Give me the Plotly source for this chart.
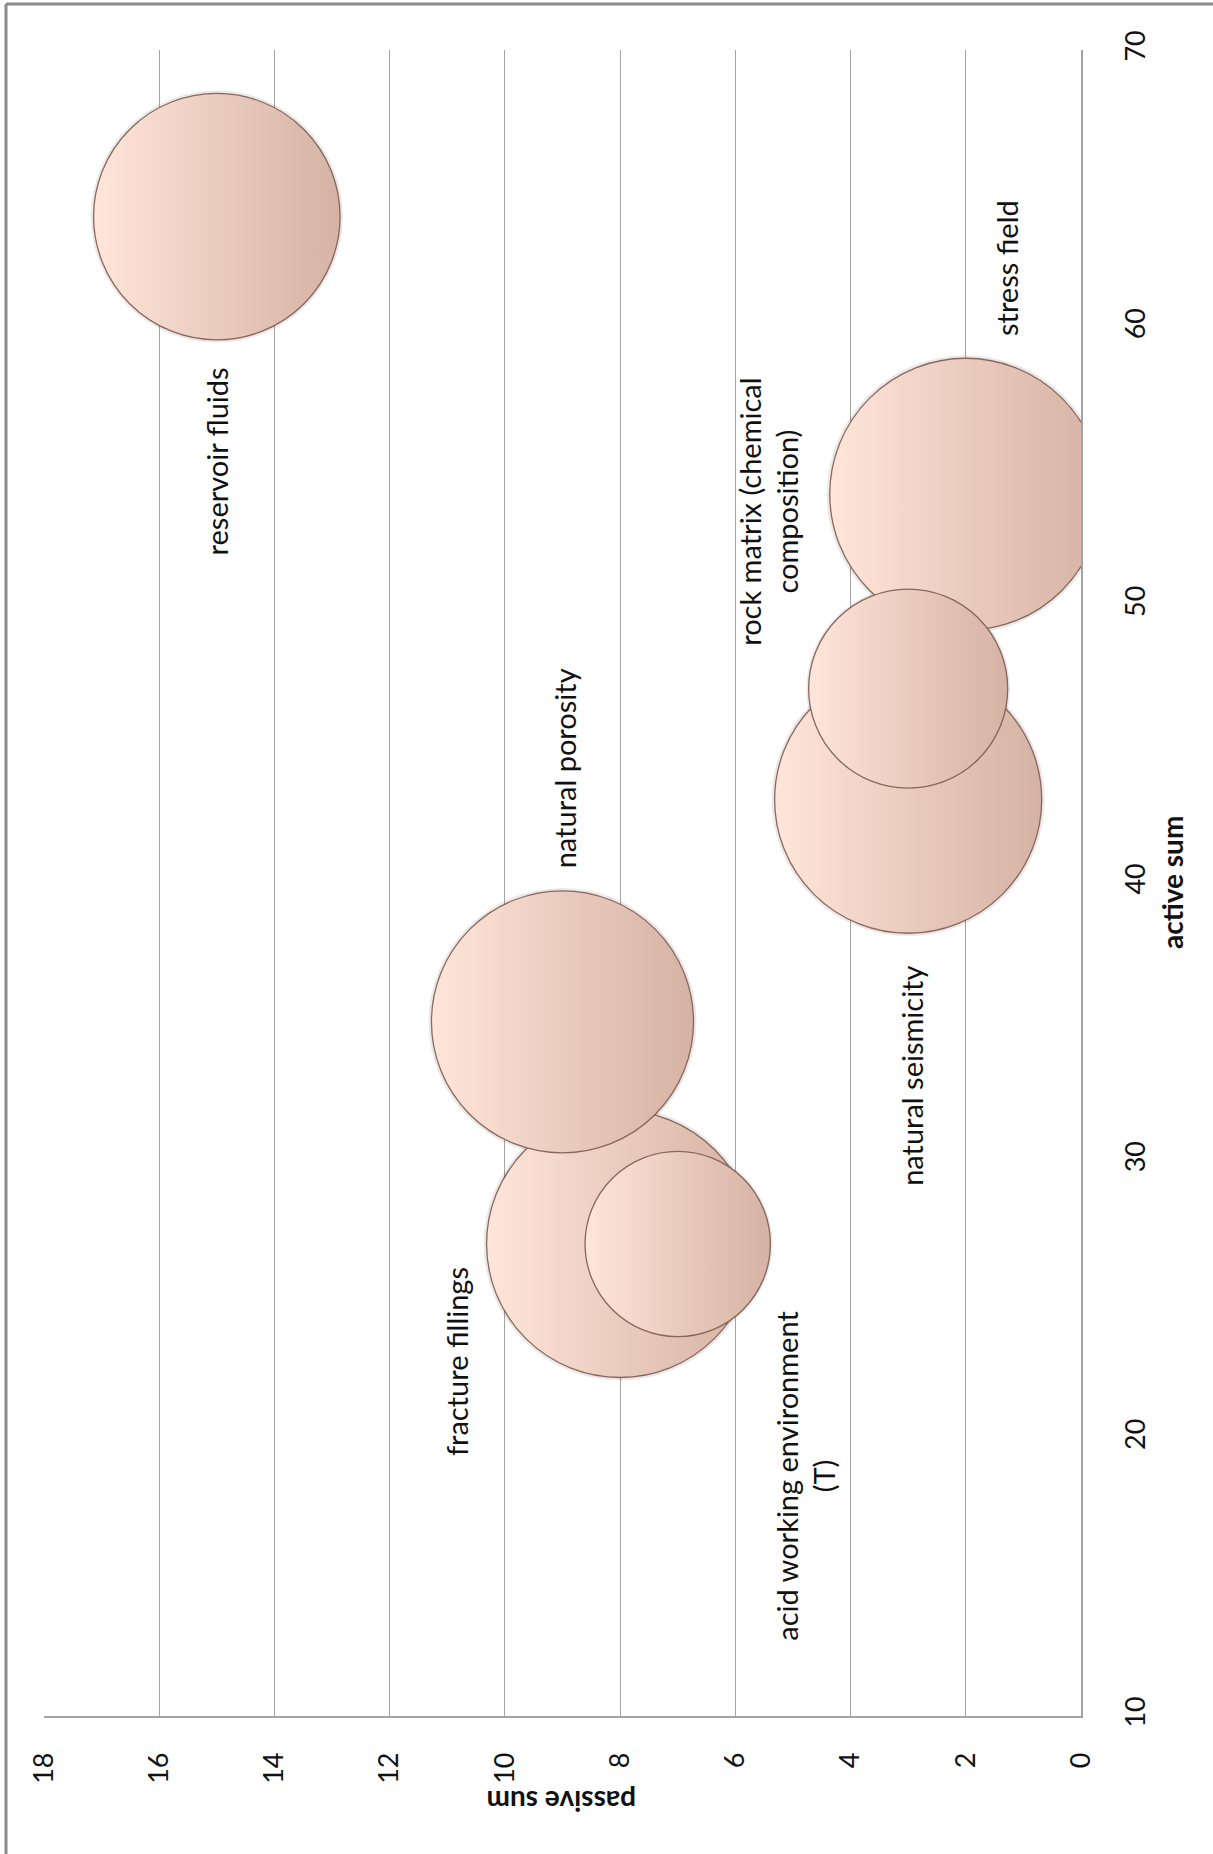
import plotly.graph_objects as go

# ---- data ----
factors = ["stress field", "natural seismicity", "fracture fillings", "natural porosity",
           "reservoir fluids", "rock matrix (chemical<br>composition)", "acid working environment<br>(T)"]
active_sum = [54, 43, 27, 35, 64, 47, 27]
passive_sum = [2, 3, 8, 9, 15, 3, 7]
bubble_size = [28, 27, 27, 26, 23, 15, 13]

# label offsets (pixels) relative to each bubble
label_dx = [40, 4, -163, 2, 0, -140, 128]
label_dy = [-226, 276, 118, -253, 245, -177, 232]

passive_ticks = list(range(0, 20, 2))
active_ticks = list(range(10, 80, 10))

W, H = 1213, 1854
L, R, T, B = 44, 1081, 50, 1716
max_diam = 272

FONT = "Lato, Carlito, 'Open Sans', sans-serif"

fig = go.Figure()
# soft shadow under the bubbles
fig.add_trace(go.Scatter(
    x=passive_sum, y=active_sum, mode="markers",
    marker=dict(size=bubble_size, sizemode="area",
                sizeref=2 * max(bubble_size) / (max_diam + 6) ** 2,
                color="rgba(80,60,50,0.16)", line=dict(width=0)),
    hoverinfo="skip", showlegend=False, cliponaxis=True,
))
fig.add_trace(go.Scatter(
    x=passive_sum, y=active_sum, mode="markers",
    marker=dict(
        size=bubble_size, sizemode="area",
        sizeref=2 * max(bubble_size) / max_diam ** 2,
        color="#FFE6D9",
        gradient=dict(type="horizontal", color="#D5B2A4"),
        line=dict(color="rgba(125,90,80,0.9)", width=1.3),
        opacity=1,
    ),
    hoverinfo="skip", showlegend=False, cliponaxis=True,
))

for name, xa, ya, dx, dy in zip(factors, passive_sum, active_sum, label_dx, label_dy):
    fig.add_annotation(x=xa, y=ya, xref="x", yref="y", text=name, showarrow=False,
                       textangle=-90, xshift=dx, yshift=-dy, xanchor="center", yanchor="middle",
                       font=dict(family=FONT, size=29, color="#111111"))

grid_c = "#a3a3a3"
fig.update_xaxes(range=[18, 0], tickvals=passive_ticks, tickangle=-90,
                 showgrid=True, gridcolor=grid_c, gridwidth=1,
                 showline=True, linecolor=grid_c, linewidth=1.5,
                 zeroline=False, ticks="", ticklabelstandoff=24,
                 tickfont=dict(family=FONT, size=27, color="#111111"))
fig.update_yaxes(range=[10, 70], tickvals=active_ticks, tickangle=-90, side="right",
                 showgrid=False, showline=True, linecolor=grid_c, linewidth=1.5,
                 zeroline=False, ticks="", ticklabelstandoff=30,
                 tickfont=dict(family=FONT, size=27, color="#111111"))

pw, ph = R - L, B - T
def px_x(p):
    return (p - L) / pw
def px_y(p):
    return (B - p) / ph

# axis titles (rotated like the reference)
fig.add_annotation(x=px_x(1172), y=px_y(883), xref="paper", yref="paper", text="<b>active sum</b>",
                   showarrow=False, textangle=-90, xanchor="center", yanchor="middle",
                   font=dict(family=FONT, size=28, color="#111111"))
fig.add_annotation(x=px_x(562), y=px_y(1802), xref="paper", yref="paper", text="<b>passive sum</b>",
                   showarrow=False, textangle=180, xanchor="center", yanchor="middle",
                   font=dict(family=FONT, size=28, color="#111111"))

# outer chart border (left and top edges visible)
fig.add_shape(type="line", xref="paper", yref="paper", x0=px_x(6), x1=px_x(6), y0=px_y(1854), y1=px_y(4),
              line=dict(color="#8a8a8a", width=3))
fig.add_shape(type="line", xref="paper", yref="paper", x0=px_x(6), x1=px_x(1213), y0=px_y(4), y1=px_y(4),
              line=dict(color="#8a8a8a", width=3))

fig.update_layout(width=W, height=H, margin=dict(l=L, r=W - R, t=T, b=H - B),
                  plot_bgcolor="white", paper_bgcolor="white", showlegend=False)
fig.write_html("out.html")
